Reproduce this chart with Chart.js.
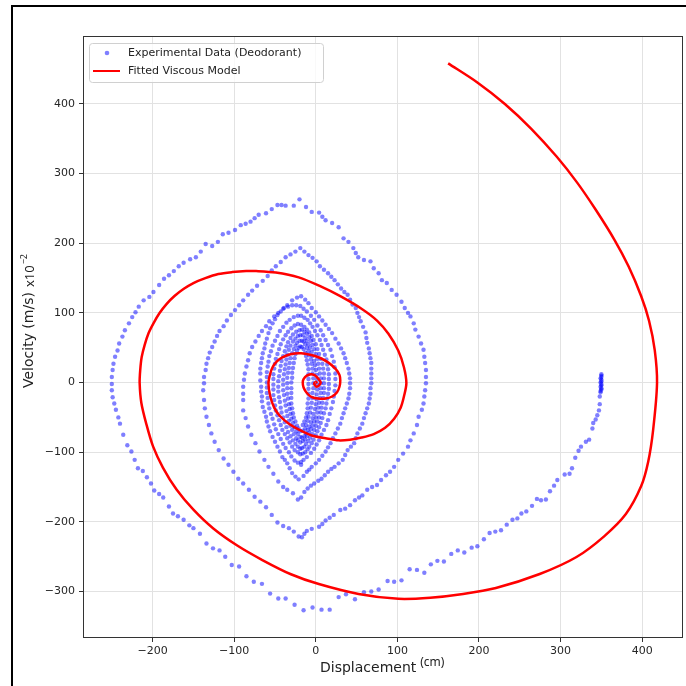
<!DOCTYPE html>
<html>
<head>
<meta charset="utf-8">
<script src="https://cdn.jsdelivr.net/npm/chart.js@4.4.0/dist/chart.umd.min.js"></script>
<style>
  html, body { margin: 0; padding: 0; background: #fff; }
  canvas { display: block; }
</style>
</head>
<body>
<canvas id="phasechart" width="686" height="686"></canvas>
<script>
// Axis ticks
const xTicks = [-200, -100, 0, 100, 200, 300, 400];
const yTicks = [-300, -200, -100, 0, 100, 200, 300, 400];

// Experimental data (displacement cm, velocity m/s x10^-2), read off the picture
// resting at the release point
const expHold = [[350,12],[350,10],[350,8],[349,6],[350,4],[350,2],[349,0],[350,-2],[350,-4],[349,-6],[350,-8],[350,-10],[349,-12],[349,-14]];
// first big swing: release -> bottom -> left -> top -> right -> bottom
const expRing1 = [[348,-20],[348,-31],[347,-40],[345,-47],[343,-53],[340,-58],[339,-66],[335,-82],[331,-85],[325,-92],[322,-98],[318,-108],[314,-123],[311,-131],[305,-132],[296,-140],[292,-148],[287,-156],[282,-168],[276,-169],[271,-167],[265,-177],[258,-185],[252,-188],[247,-195],[241,-197],[234,-204],[227,-212],[220,-214],[213,-216],[206,-225],[198,-235],[191,-237],[182,-244],[174,-241],[166,-246],[157,-257],[149,-256],[141,-261],[133,-273],[124,-269],[115,-268],[105,-284],[96,-286],[88,-285],[77,-297],[68,-300],[59,-301],[48,-311],[37,-304],[28,-308],[17,-326],[7,-326],[-4,-323],[-15,-327],[-26,-319],[-37,-310],[-46,-310],[-56,-303],[-66,-289],[-76,-286],[-85,-278],[-94,-264],[-103,-262],[-111,-250],[-118,-241],[-126,-238],[-134,-231],[-142,-217],[-150,-209],[-155,-205],[-162,-197],[-169,-192],[-175,-188],[-180,-178],[-187,-165],[-192,-160],[-198,-155],[-202,-145],[-207,-136],[-212,-127],[-218,-123],[-222,-111],[-226,-99],[-231,-90],[-236,-75],[-240,-59],[-242,-50],[-245,-39],[-247,-30],[-249,-21],[-250,-11],[-250,-2],[-250,8],[-249,18],[-248,27],[-246,37],[-243,46],[-241,56],[-237,66],[-234,75],[-229,85],[-225,94],[-221,101],[-217,109],[-211,118],[-204,123],[-199,130],[-192,140],[-186,149],[-180,154],[-174,160],[-168,167],[-162,172],[-154,177],[-147,180],[-141,188],[-135,199],[-127,196],[-120,202],[-114,213],[-107,215],[-99,219],[-92,226],[-86,228],[-80,231],[-75,236],[-70,241],[-61,243],[-54,249],[-47,255],[-42,255],[-37,254],[-27,254],[-20,263],[-12,252],[-5,245],[4,244],[8,238],[12,233],[20,229],[28,223],[34,207],[40,202],[46,193],[49,186],[52,180],[59,176],[67,174],[71,164],[77,157],[81,147],[87,143],[93,133],[99,126],[105,116],[109,107],[113,100],[116,95],[120,85],[122,76],[126,66],[129,56],[132,47],[133,37],[134,28],[135,18],[135,8],[135,-1],[134,-11],[133,-20],[132,-30],[130,-39],[126,-49],[124,-61],[120,-73],[116,-83],[113,-92],[107,-102],[101,-111],[96,-121],[91,-128],[86,-133],[80,-140],[75,-147],[69,-150],[63,-154],[57,-162],[53,-165],[48,-169],[42,-176],[36,-181],[30,-183],[22,-190],[17,-194],[12,-198],[8,-203],[4,-207],[-5,-210],[-11,-213],[-14,-217],[-17,-222]];
const expRing2 = [[-21,-221],[-27,-214],[-33,-209],[-40,-206],[-47,-201],[-54,-190],[-61,-179],[-68,-171],[-75,-164],[-82,-154],[-89,-145],[-95,-138],[-101,-128],[-107,-118],[-113,-109],[-119,-97],[-124,-85],[-128,-73],[-131,-61],[-134,-49],[-136,-37],[-137,-25],[-138,-11],[-137,-1],[-137,8],[-135,18],[-134,27],[-132,35],[-130,43],[-127,51],[-124,59],[-121,67],[-118,74],[-113,81],[-109,89],[-104,97],[-99,104],[-94,111],[-89,118],[-83,126],[-78,132],[-72,139],[-65,146],[-59,153],[-54,161],[-49,167],[-43,173],[-37,180],[-31,184],[-25,188],[-19,193],[-14,188],[-9,183],[-4,179],[1,174],[5,167],[10,162],[15,157],[19,152],[23,147],[27,141],[31,135],[35,130],[39,126],[42,119],[45,112],[49,107],[51,100],[53,94],[55,88],[58,80],[61,72],[62,64],[63,57],[65,49],[66,42],[67,35],[68,28],[68,20],[68,13],[68,6],[68,-1],[67,-8],[67,-16],[66,-23],[65,-30],[63,-37],[61,-44],[59,-51],[57,-59],[54,-66],[51,-73],[49,-80],[47,-87],[43,-92],[39,-97],[36,-104],[33,-111],[28,-116],[23,-121],[19,-124],[15,-128],[11,-133],[7,-138],[3,-141],[-2,-145],[-6,-148],[-10,-152],[-14,-157],[-18,-165]];
const expRing3 = [[-22,-168],[-28,-159],[-35,-154],[-40,-150],[-46,-142],[-52,-131],[-58,-121],[-63,-111],[-69,-99],[-74,-87],[-79,-75],[-83,-63],[-86,-51],[-89,-40],[-89,-25],[-89,-16],[-89,-6],[-88,4],[-87,13],[-85,23],[-83,32],[-81,42],[-78,51],[-74,59],[-70,67],[-66,74],[-61,81],[-57,88],[-51,95],[-46,100],[-40,106],[-35,111],[-29,118],[-23,122],[-18,124],[-13,119],[-9,114],[-5,107],[0,101],[4,95],[8,89],[12,83],[16,77],[20,71],[24,63],[28,56],[31,49],[34,42],[36,35],[38,28],[40,20],[41,13],[42,6],[42,-1],[42,-8],[41,-16],[40,-23],[38,-30],[36,-37],[34,-44],[32,-51],[30,-59],[27,-66],[24,-73],[21,-80],[18,-87],[15,-93],[12,-99],[8,-105],[4,-111],[0,-116],[-5,-121],[-8,-125],[-11,-128],[-15,-134]];
const expRing4 = [[-21,-139],[-25,-135],[-29,-130],[-32,-123],[-35,-116],[-38,-111],[-41,-107],[-44,-99],[-47,-92],[-50,-85],[-53,-78],[-56,-70],[-58,-63],[-60,-56],[-61,-49],[-63,-42],[-65,-35],[-66,-27],[-66,-20],[-67,-13],[-67,-6],[-68,3],[-68,13],[-68,20],[-67,28],[-66,35],[-65,42],[-63,49],[-62,56],[-60,63],[-58,71],[-56,78],[-53,85],[-50,91],[-47,97],[-43,102],[-39,107],[-34,109],[-29,111],[-24,111],[-19,110],[-15,106],[-11,102],[-6,96],[-2,90],[2,82],[6,75],[9,68],[12,61],[15,54],[18,47],[20,38],[22,30],[23,22],[24,13],[24,5],[24,-4],[23,-12],[22,-20],[21,-28],[19,-37],[17,-45],[15,-54],[13,-61],[10,-68],[7,-75],[4,-83],[1,-89],[-2,-95],[-6,-101],[-11,-107],[-15,-111],[-18,-114]];
// the dense inner core, ring after ring
const expCore = [[-18,-118],[-22,-115],[-26,-112],[-30,-106],[-33,-100],[-37,-94],[-40,-88],[-43,-81],[-46,-74],[-49,-67],[-51,-60],[-53,-52],[-55,-45],[-57,-37],[-58,-30],[-59,-22],[-60,-15],[-60,-7],[-60,0],[-60,8],[-60,15],[-59,23],[-58,30],[-57,38],[-55,45],[-53,53],[-50,60],[-47,67],[-44,74],[-40,80],[-36,86],[-32,90],[-27,94],[-22,96],[-18,96],[-14,93],[-10,90],[-7,85],[-4,80],[-1,74],[2,68],[5,61],[7,54],[9,47],[11,40],[13,33],[14,26],[15,19],[16,12],[16,5],[16,-2],[16,-9],[15,-16],[14,-23],[13,-30],[12,-37],[10,-44],[8,-51],[6,-58],[4,-64],[2,-70],[0,-76],[-3,-82],[-5,-87],[-8,-92],[-10,-96],[-13,-100],[-16,-102],
  [-19,-103],[-22,-100],[-26,-97],[-29,-92],[-32,-86],[-35,-80],[-38,-74],[-41,-68],[-43,-61],[-45,-54],[-47,-47],[-49,-40],[-50,-33],[-51,-25],[-52,-18],[-52,-10],[-52,-3],[-52,5],[-52,12],[-51,20],[-50,27],[-49,34],[-47,41],[-45,48],[-43,55],[-40,62],[-37,68],[-34,73],[-30,78],[-26,82],[-22,84],[-18,83],[-14,80],[-11,76],[-8,72],[-5,67],[-3,61],[0,55],[2,48],[4,41],[6,34],[8,27],[9,20],[10,13],[10,6],[10,-1],[10,-8],[10,-15],[9,-22],[8,-29],[7,-36],[6,-43],[4,-50],[2,-56],[0,-62],[-2,-68],[-4,-74],[-7,-79],[-9,-84],[-12,-88],[-14,-92],[-17,-94],
  [-19,-95],[-22,-92],[-25,-88],[-28,-83],[-31,-77],[-34,-71],[-36,-64],[-38,-57],[-40,-50],[-42,-43],[-43,-36],[-44,-28],[-45,-21],[-46,-13],[-46,-6],[-46,2],[-45,9],[-44,17],[-43,24],[-42,31],[-40,38],[-38,45],[-36,52],[-34,58],[-31,64],[-28,69],[-24,73],[-20,75],[-17,76],[-14,73],[-11,70],[-8,65],[-6,60],[-4,54],[-2,48],[0,41],[2,34],[3,27],[4,20],[5,13],[6,6],[6,-1],[6,-8],[6,-15],[5,-22],[4,-29],[3,-36],[2,-43],[0,-50],[-2,-56],[-4,-62],[-6,-67],[-8,-72],[-11,-77],[-13,-82],[-16,-84],
  [-19,-86],[-22,-83],[-24,-80],[-27,-74],[-29,-68],[-31,-62],[-33,-55],[-35,-48],[-36,-41],[-37,-33],[-38,-26],[-39,-18],[-40,-11],[-40,-3],[-40,4],[-39,12],[-38,19],[-37,26],[-36,33],[-35,40],[-33,47],[-31,53],[-28,59],[-25,63],[-22,67],[-19,68],[-16,68],[-13,64],[-11,60],[-9,55],[-7,50],[-5,44],[-4,38],[-2,31],[-1,25],[0,18],[1,11],[2,4],[2,-3],[2,-10],[1,-17],[1,-24],[0,-31],[-1,-38],[-3,-45],[-4,-51],[-6,-57],[-8,-63],[-10,-68],[-12,-73],[-14,-77],[-17,-79],
  [-19,-78],[-22,-74],[-24,-70],[-26,-64],[-28,-58],[-30,-52],[-31,-45],[-32,-38],[-33,-31],[-34,-23],[-35,-16],[-35,-8],[-35,-1],[-35,7],[-34,14],[-33,21],[-32,28],[-31,35],[-29,42],[-27,48],[-25,53],[-23,57],[-20,60],[-17,60],[-15,59],[-13,55],[-11,50],[-9,45],[-8,39],[-6,33],[-5,27],[-4,20],[-4,13],[-3,6],[-3,-1],[-3,-8],[-4,-15],[-4,-22],[-5,-29],[-6,-36],[-7,-43],[-9,-49],[-10,-55],[-12,-61],[-13,-66],[-16,-69],
  [-19,-70],[-21,-66],[-23,-62],[-25,-56],[-27,-50],[-28,-44],[-29,-37],[-30,-30],[-30,-22],[-30,-15],[-30,-8],[-30,0],[-29,7],[-29,14],[-28,21],[-27,28],[-26,35],[-25,41],[-23,46],[-21,50],[-19,52],[-17,51],[-15,48],[-13,43],[-12,38],[-11,32],[-10,26],[-9,19],[-9,12],[-9,5],[-9,-2],[-9,-9],[-9,-16],[-9,-23],[-10,-30],[-10,-37],[-11,-44],[-12,-50],[-14,-56],[-16,-61]];

// Fitted viscous model (spiral), points along the red curve
const fittedModel = [[162.2,458.3],[198,430.9],[231.7,400],[263.8,364.7],[295.1,324.5],[320.1,287.4],[342.9,248.4],[366.2,204.6],[383.4,166.5],[398.7,124.2],[408.4,88.7],[415.4,46.5],[418.2,-0.7],[413.4,-68.2],[407.3,-114.1],[398.8,-148.6],[380,-188.8],[353.7,-220.4],[319.5,-250.5],[274.4,-274.9],[220.7,-295],[180.5,-303.6],[140.2,-309],[101.2,-310.5],[52.4,-303.5],[3.7,-289.3],[-30.5,-275.2],[-65.5,-254.8],[-96.3,-234],[-125.6,-209.5],[-150,-182.5],[-170.7,-153.6],[-187.4,-122],[-199.6,-91.2],[-207.7,-59.6],[-213.8,-29.4],[-215.9,-0.7],[-215.2,17.9],[-213.4,36.6],[-209.8,53.8],[-204.9,71.1],[-198.8,85.4],[-191.5,99.8],[-183,112.7],[-173.2,124.2],[-162.2,134.3],[-150,142.9],[-135.4,150],[-119.5,155.8],[-102.4,158.6],[-85.4,160.1],[-73.2,160.1],[-49,158],[-21,151],[6,138],[30,124],[56,106],[75,89],[89,70],[101,46],[108,22],[111,-1],[108,-20],[104,-36],[96,-52],[85,-65],[71,-74],[56,-79],[42,-82],[28,-83],[12,-80],[-5,-76],[-20,-68],[-33,-59],[-44,-48],[-51,-36],[-56,-19],[-58,-1],[-56,12],[-53,22],[-48,30],[-41,36],[-30,41],[-18,42],[-7,40],[4,36],[15,29],[24,20],[29,11],[30,3],[29,-6],[26,-14],[20,-20],[12,-23],[3,-23],[-5,-21],[-11,-15],[-15,-7],[-16,0],[-15,5],[-11,10],[-6,12],[-2,11],[1,8],[4,4],[6,0],[4,-4],[1,-6],[-1,-4],[-2,-1],[0,1],[1,0],[0,0]];

const toPoints = arr => arr.map(p => ({ x: p[0], y: p[1] }));
const experimental = toPoints([...expHold, ...expRing1, ...expRing2, ...expRing3, ...expRing4, ...expCore]);

const tickFont = { family: 'DejaVu Sans', size: 11 };
const minusSign = v => String(v).replace('-', '\u2212');

// frame, spines, legend and axis titles
const decorations = {
  id: 'decorations',
  afterDraw(chart) {
    const ctx = chart.ctx;
    const a = chart.chartArea;
    ctx.save();

    // spines
    ctx.strokeStyle = '#333';
    ctx.lineWidth = 1;
    ctx.strokeRect(a.left - 0.5, a.top - 0.5, a.right - a.left + 1, a.bottom - a.top + 1);

    // black outer frame of the screenshot
    ctx.fillStyle = '#000';
    ctx.fillRect(11, 5, 675, 2);
    ctx.fillRect(11, 5, 2, 681);

    // legend
    const lx = 89, ly = 43, lw = 234, lh = 39;
    ctx.beginPath();
    ctx.roundRect(lx + 0.5, ly + 0.5, lw, lh, 3);
    ctx.fillStyle = 'rgba(255,255,255,0.8)';
    ctx.fill();
    ctx.strokeStyle = '#d0d0d0';
    ctx.stroke();
    ctx.beginPath();
    ctx.arc(107, 53, 2.3, 0, Math.PI * 2);
    ctx.fillStyle = 'rgba(0,0,255,0.5)';
    ctx.fill();
    ctx.beginPath();
    ctx.moveTo(93, 71);
    ctx.lineTo(120, 71);
    ctx.strokeStyle = '#ff0000';
    ctx.lineWidth = 2;
    ctx.stroke();
    ctx.fillStyle = '#222';
    ctx.font = '11px "DejaVu Sans"';
    ctx.textBaseline = 'middle';
    ctx.textAlign = 'left';
    ctx.fillText('Experimental Data (Deodorant)', 128, 53);
    ctx.fillText('Fitted Viscous Model', 128, 71);

    // x title
    ctx.font = '14px "DejaVu Sans"';
    ctx.fillText('Displacement', 320, 668);
    const dw = ctx.measureText('Displacement').width;
    ctx.font = '12px "Noto Sans"';
    ctx.fillText('(cm)', 320 + dw + 4, 663);

    // y title
    ctx.translate(29, 388);
    ctx.rotate(-Math.PI / 2);
    ctx.font = '14px "DejaVu Sans"';
    ctx.fillText('Velocity (m/s)', 0, 0);
    const vw = ctx.measureText('Velocity (m/s)').width;
    ctx.font = '13px "Noto Sans"';
    ctx.fillText('x10', vw + 5, 1);
    const xw = ctx.measureText('x10').width;
    ctx.font = '9px "Noto Sans"';
    ctx.fillText('\u22122', vw + 5 + xw + 1, -5);

    ctx.restore();
  }
};

new Chart(document.getElementById('phasechart'), {
  type: 'scatter',
  data: {
    datasets: [
      {
        label: 'Fitted Viscous Model',
        data: toPoints(fittedModel),
        showLine: true,
        borderColor: '#ff0000',
        borderWidth: 2.5,
        pointRadius: 0,
        tension: 0.3,
        fill: false,
        order: 0
      },
      {
        label: 'Experimental Data (Deodorant)',
        data: experimental,
        pointRadius: 2.2,
        pointBackgroundColor: 'rgba(0,0,255,0.5)',
        pointBorderWidth: 0,
        order: 1
      }
    ]
  },
  options: {
    responsive: false,
    animation: false,
    devicePixelRatio: 1,
    layout: { padding: { top: 37, right: 1, left: 0, bottom: 0 } },
    plugins: {
      legend: { display: false },
      tooltip: { enabled: false }
    },
    scales: {
      x: {
        type: 'linear',
        min: -284.1,
        max: 448.8,
        afterBuildTicks: s => { s.ticks = xTicks.map(v => ({ value: v })); },
        afterFit: s => { s.height = 49; s.paddingLeft = 0; s.paddingRight = 0; },
        grid: { color: '#e2e2e2', lineWidth: 1, tickColor: '#333', tickLength: 5 },
        border: { display: false },
        ticks: { color: '#262626', font: tickFont, padding: 3, maxRotation: 0, autoSkip: false, callback: minusSign }
      },
      y: {
        type: 'linear',
        min: -365.3,
        max: 496.1,
        afterBuildTicks: s => { s.ticks = yTicks.map(v => ({ value: v })); },
        afterFit: s => { s.width = 84; s.paddingTop = 0; s.paddingBottom = 0; },
        grid: { color: '#e2e2e2', lineWidth: 1, tickColor: '#333', tickLength: 5 },
        border: { display: false },
        ticks: { color: '#262626', font: tickFont, padding: 4, autoSkip: false, callback: minusSign }
      }
    }
  },
  plugins: [decorations]
});
</script>
</body>
</html>
